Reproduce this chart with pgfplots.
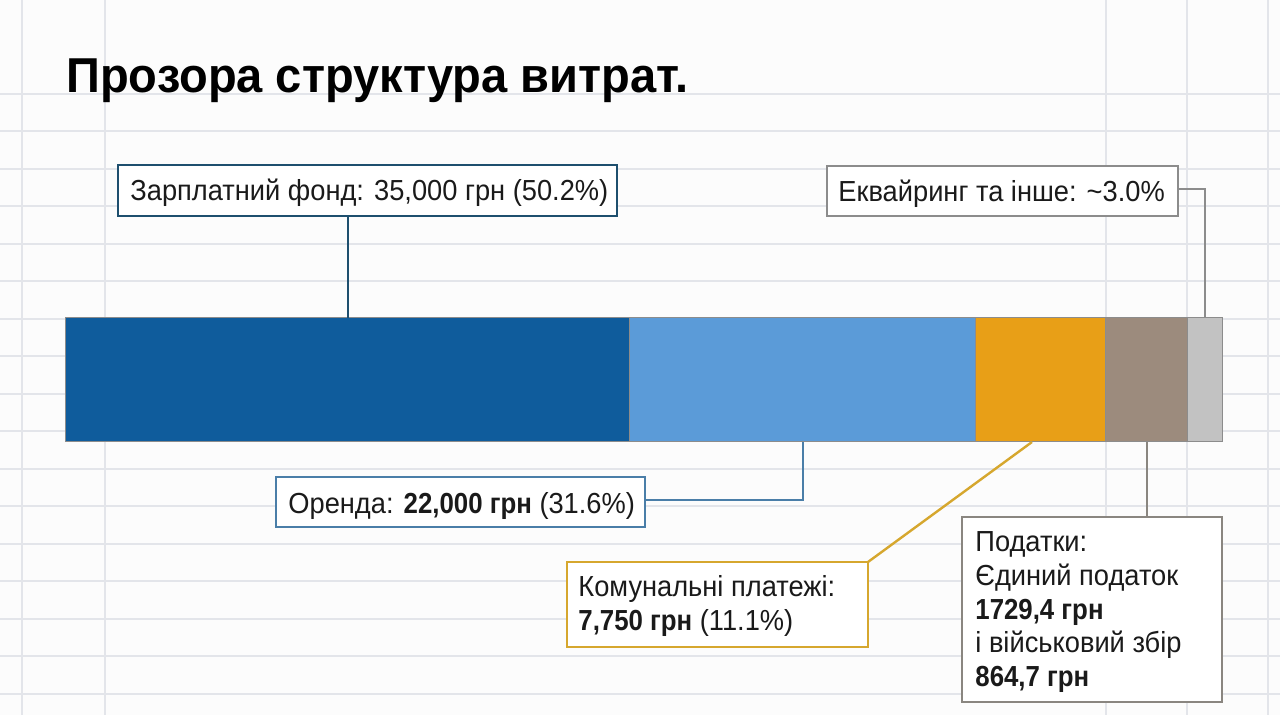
\documentclass[border=0pt]{standalone}
\usepackage{fontspec}
\setmainfont{Liberation Sans}
\newfontfamily\cond[FakeStretch=0.94,BoldFeatures={FakeStretch=0.89}]{Liberation Sans}
\newfontfamily\titlefont[FakeStretch=0.96]{Liberation Sans}
\usepackage{pgfplots}
\pgfplotsset{compat=1.18}
\definecolor{cDark}{HTML}{0F5C9C}
\definecolor{cLight}{HTML}{5B9BD8}
\definecolor{cOrange}{HTML}{E89F17}
\definecolor{cTaupe}{HTML}{9C8B7D}
\definecolor{cGrey}{HTML}{C2C2C2}
\definecolor{gridc}{HTML}{E3E5EA}
\definecolor{bOne}{HTML}{1E4F6E}
\definecolor{bTwo}{HTML}{8C8C8C}
\definecolor{bThree}{HTML}{4A7EA8}
\definecolor{bFour}{HTML}{D6A72E}
\definecolor{bFive}{HTML}{8A8680}
\definecolor{txt}{HTML}{1A1A1A}
\begin{document}
\begin{tikzpicture}
\begin{scope}[x=0.5pt,y=-0.5pt,yshift=357.5pt]
\useasboundingbox (0,0) rectangle (1280,715);
\fill[white!98!gray] (0,0) rectangle (1280,715);
% notebook grid
\foreach \yy in {94,131.5,169,206.5,244,281.5,319,356.5,394,431.5,469,506.5,544,581.5,619,656.5,694}
  \draw[gridc,line width=1pt] (0,\yy) -- (1280,\yy);
\foreach \xx in {22,105,1106,1187,1268}
  \draw[gridc,line width=1pt] (\xx,0) -- (\xx,715);
\end{scope}
\begin{axis}[
  at={(32.5pt,136.5pt)}, anchor=south west,
  scale only axis, width=578.5pt, height=62pt,
  xbar stacked, bar width=62pt,
  xmin=0, xmax=100, ymin=0.5, ymax=1.5,
  hide axis, clip=false,
  every axis plot/.append style={draw=black!45, line width=0.5pt},
]
\addplot[fill=cDark, draw=black!45] coordinates {(48.83,1)};   % Зарплатний фонд
\addplot[fill=cLight, draw=black!45] coordinates {(29.90,1)};  % Оренда
\addplot[fill=cOrange, draw=black!45] coordinates {(11.24,1)}; % Комунальні платежі
\addplot[fill=cTaupe, draw=black!45] coordinates {(7.09,1)};   % Податки
\addplot[fill=cGrey, draw=black!45] coordinates {(2.94,1)};    % Еквайринг та інше
\end{axis}
\begin{scope}[x=0.5pt,y=-0.5pt,yshift=357.5pt]
% title
\node[anchor=base west, inner sep=0, text=black] at (66,93)
  {\titlefont\bfseries\fontsize{24.5pt}{28pt}\selectfont Прозора структура витрат.};
\tikzset{lbl/.style={anchor=base west, inner sep=0, text=txt, font=\cond\fontsize{14.5pt}{16.85pt}\selectfont}}
% box 1
\draw[bOne, line width=1.2pt, fill=white] (118,165) rectangle (617,216);
\draw[bOne, line width=1.2pt] (348,216) -- (348,318);
\node[lbl] at (130,201) {Зарплатний фонд: 35,000 грн (50.2\%)};
% box 2
\draw[bTwo, line width=1.2pt, fill=white] (827,166) rectangle (1178,216);
\draw[bTwo, line width=1.2pt] (1178,189) -- (1205,189) -- (1205,318);
\node[lbl] at (838,202) {Еквайринг та інше: \textasciitilde3.0\%};
% box 3
\draw[bThree, line width=1.2pt, fill=white] (276,477) rectangle (645,527);
\draw[bThree, line width=1.2pt] (645,500) -- (803,500) -- (803,442);
\node[lbl] at (288,514) {Оренда: \textbf{22,000 грн} (31.6\%)};
% box 4
\draw[bFour, line width=1.2pt, fill=white] (567,562) rectangle (868,647);
\draw[bFour, line width=1.2pt] (868,562) -- (1032,442);
\node[lbl] at (578,597) {Комунальні платежі:};
\node[lbl] at (578,631) {\textbf{7,750 грн} (11.1\%)};
% box 5
\draw[bFive, line width=1.2pt, fill=white] (962,517) rectangle (1222,702);
\draw[bFive, line width=1.2pt] (1147,442) -- (1147,517);
\node[lbl] at (975,552) {Податки:};
\node[lbl] at (975,586) {Єдиний податок};
\node[lbl] at (975,620) {\textbf{1729,4 грн}};
\node[lbl] at (975,653) {і військовий збір};
\node[lbl] at (975,687) {\textbf{864,7 грн}};
\end{scope}
\end{tikzpicture}
\end{document}
